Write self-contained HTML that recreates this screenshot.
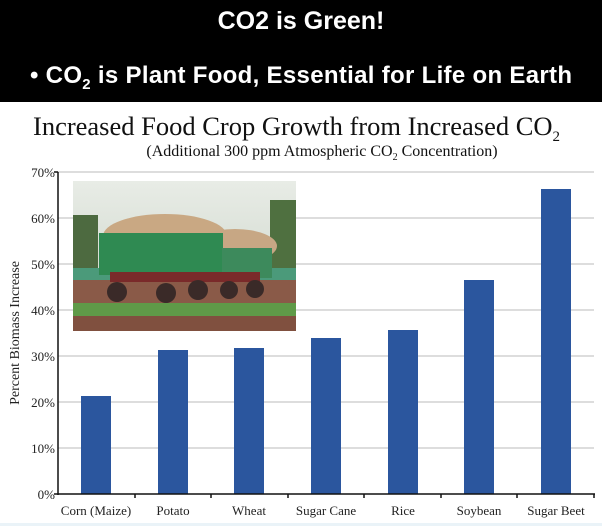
<!DOCTYPE html><html><head><style>body{margin:0;width:602px;height:526px;overflow:hidden;background:#fff}</style></head><body>
<svg width="602" height="526" xmlns="http://www.w3.org/2000/svg" style="display:block">
<rect width="602" height="102" fill="#000"/>
<text x="301" y="29" text-anchor="middle" font-family="Liberation Sans" font-weight="bold" font-size="25" fill="#fff">CO2 is Green!</text>
<text x="30" y="83" font-family="Liberation Sans" font-weight="bold" font-size="24" textLength="542" fill="#fff">• CO<tspan font-size="15" dy="6">2</tspan><tspan dy="-6"> is Plant Food, Essential for Life on Earth</tspan></text>
<text x="33" y="135" font-family="Liberation Serif" font-size="26.5" fill="#111">Increased Food Crop Growth from Increased CO<tspan font-size="15" dy="6">2</tspan></text>
<text x="322" y="156" text-anchor="middle" font-family="Liberation Serif" font-size="16" fill="#111">(Additional 300 ppm Atmospheric CO<tspan font-size="10" dy="4">2</tspan><tspan dy="-4"> Concentration)</tspan></text>
<g stroke="#bbb" stroke-width="1">
<line x1="58" x2="594" y1="172" y2="172"/><line x1="58" x2="594" y1="218" y2="218"/><line x1="58" x2="594" y1="264" y2="264"/><line x1="58" x2="594" y1="310" y2="310"/><line x1="58" x2="594" y1="356" y2="356"/><line x1="58" x2="594" y1="402" y2="402"/><line x1="58" x2="594" y1="448" y2="448"/></g>
<g font-family="Liberation Serif" font-size="13" fill="#222" text-anchor="end">
<text x="55" y="177">70%</text><text x="55" y="223">60%</text><text x="55" y="269">50%</text><text x="55" y="315">40%</text><text x="55" y="361">30%</text><text x="55" y="407">20%</text><text x="55" y="453">10%</text><text x="55" y="499">0%</text></g>
<text transform="translate(19,333) rotate(-90)" text-anchor="middle" font-family="Liberation Serif" font-size="14" fill="#222">Percent Biomass Increase</text>
<defs><linearGradient id="sky" x1="0" y1="0" x2="0" y2="1"><stop offset="0" stop-color="#e8ece6"/><stop offset="1" stop-color="#c9d2c6"/></linearGradient></defs>
<rect x="73" y="181" width="223" height="150" fill="url(#sky)"/>
<rect x="73" y="215" width="25" height="60" fill="#4d6a40"/><rect x="270" y="200" width="26" height="75" fill="#4f7040"/>
<rect x="73" y="268" width="223" height="12" fill="#4b9a7a"/>
<rect x="73" y="280" width="223" height="30" fill="#8a5a48"/>
<rect x="73" y="303" width="223" height="13" fill="#5f9a48"/>
<rect x="73" y="316" width="223" height="15" fill="#80503f"/>
<ellipse cx="165" cy="236" rx="62" ry="22" fill="#c9a883"/><ellipse cx="235" cy="246" rx="42" ry="17" fill="#c7a784"/>
<rect x="99" y="233" width="124" height="42" fill="#2f8a52"/><rect x="222" y="248" width="50" height="30" fill="#3d8a5c"/>
<rect x="110" y="272" width="150" height="10" fill="#7a2a2a"/>
<circle cx="117" cy="292" r="10" fill="#3a2a28"/><circle cx="166" cy="293" r="10" fill="#3a2a28"/><circle cx="198" cy="290" r="10" fill="#3a2a28"/><circle cx="229" cy="290" r="9" fill="#3a2a28"/><circle cx="255" cy="289" r="9" fill="#3a2a28"/>
<g fill="#2b569e">
<rect x="81" y="396" width="30" height="98"/><rect x="158" y="350" width="30" height="144"/><rect x="234" y="348" width="30" height="146"/><rect x="311" y="338" width="30" height="156"/><rect x="388" y="330" width="30" height="164"/><rect x="464" y="280" width="30" height="214"/><rect x="541" y="189" width="30" height="305"/></g>
<g stroke="#111" stroke-width="1.5"><line x1="58" y1="172" x2="58" y2="495"/><line x1="58" y1="494" x2="595" y2="494"/>
<line x1="54" y1="172" x2="58" y2="172"/><line x1="54" y1="494" x2="58" y2="494"/>
<line x1="135" y1="494" x2="135" y2="498"/><line x1="211" y1="494" x2="211" y2="498"/><line x1="288" y1="494" x2="288" y2="498"/><line x1="364" y1="494" x2="364" y2="498"/><line x1="441" y1="494" x2="441" y2="498"/><line x1="517" y1="494" x2="517" y2="498"/><line x1="594" y1="494" x2="594" y2="498"/></g>
<g font-family="Liberation Serif" font-size="13" fill="#222" text-anchor="middle">
<text x="96" y="515">Corn (Maize)</text><text x="173" y="515">Potato</text><text x="249" y="515">Wheat</text><text x="326" y="515">Sugar Cane</text><text x="403" y="515">Rice</text><text x="479" y="515">Soybean</text><text x="556" y="515">Sugar Beet</text></g>
<rect x="0" y="523" width="602" height="3" fill="#eaf3f8"/>
</svg></body></html>
